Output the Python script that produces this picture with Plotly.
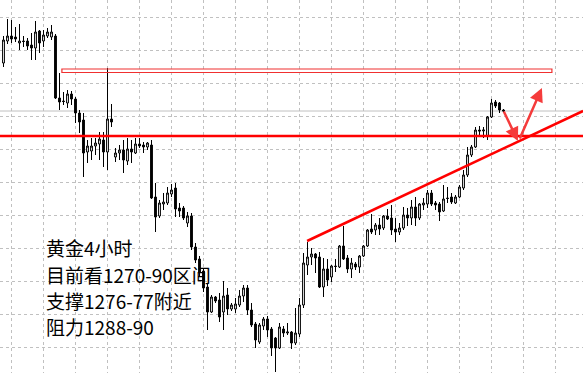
import plotly.graph_objects as go

# ---- data: XAUUSD 4H candles (price units) ----
bar_index = list(range(126))
open_ = [1290.4,1294.8,1295.8,1295.6,1294.4,1294.8,1294.8,1294.0,1293.4,1296.8,
         1294.8,1295.8,1295.6,1295.8,1283.4,1282.8,1282.4,1284.2,1283.2,1280.4,
         1279.0,1272.6,1272.8,1273.8,1274.2,1275.0,1272.6,1279.2,1271.6,1272.4,
         1273.0,1270.8,1273.2,1272.4,1274.2,1274.0,1273.6,1274.0,1263.6,1259.8,
         1262.2,1262.4,1264.2,1265.4,1261.4,1261.4,1258.4,1259.8,1253.6,1251.2,
         1248.8,1245.6,1240.6,1243.6,1243.0,1240.6,1244.0,1241.2,1241.2,1242.0,
         1243.8,1245.4,1241.0,1238.2,1234.6,1237.8,1239.2,1237.2,1235.4,1233.4,
         1237.2,1236.4,1236.6,1234.4,1236.2,1242.0,1250.0,1251.6,1252.2,1251.6,
         1245.6,1249.2,1247.6,1249.8,1249.6,1253.8,1251.4,1249.2,1250.2,1249.6,
         1251.8,1253.8,1257.2,1257.0,1258.0,1257.4,1259.8,1259.4,1257.2,1256.6,
         1257.4,1260.0,1259.4,1261.6,1259.4,1262.0,1262.2,1264.4,1262.4,1262.2,
         1260.8,1263.4,1263.6,1262.4,1263.6,1265.4,1268.0,1272.0,1273.6,1277.0,
         1276.8,1275.8,1279.6,1282.6,1282.4,1281.0]
high_ = [1295.8,1299.2,1299.0,1297.6,1298.2,1295.8,1295.4,1296.4,1298.8,1297.0,
         1297.0,1297.4,1298.0,1296.2,1288.4,1284.6,1285.0,1284.8,1283.6,1281.0,
         1280.4,1275.0,1275.4,1275.4,1276.6,1276.6,1289.4,1282.2,1273.4,1274.0,
         1275.0,1275.4,1275.0,1275.4,1275.4,1274.6,1274.6,1275.0,1266.4,1263.0,
         1264.4,1265.6,1266.2,1266.4,1262.4,1261.8,1260.6,1260.4,1254.4,1251.8,
         1249.4,1246.4,1244.0,1243.8,1244.4,1246.8,1245.4,1242.4,1243.4,1245.0,
         1246.0,1246.0,1242.4,1238.6,1238.4,1239.6,1239.8,1237.6,1235.6,1238.4,
         1237.8,1238.4,1236.8,1241.4,1243.4,1252.4,1254.6,1253.4,1252.4,1252.6,
         1251.4,1251.2,1250.0,1251.2,1254.0,1257.8,1252.0,1251.4,1250.6,1252.0,
         1254.0,1257.2,1260.2,1258.4,1259.4,1260.0,1261.2,1262.0,1259.4,1258.4,
         1261.6,1261.4,1263.0,1263.6,1262.4,1263.4,1265.0,1265.0,1262.8,1262.6,
         1266.0,1265.6,1264.4,1264.0,1266.0,1269.0,1273.6,1274.0,1277.6,1277.8,
         1277.6,1279.8,1283.2,1283.0,1282.6,1281.2]
low_ = [1289.6,1294.2,1294.4,1294.6,1293.0,1293.6,1293.0,1291.0,1291.0,1292.4,
        1293.6,1295.4,1295.0,1283.2,1281.0,1282.0,1281.4,1282.0,1278.4,1276.4,
        1267.6,1270.4,1271.0,1272.0,1271.0,1269.6,1269.0,1277.6,1270.6,1271.0,
        1268.4,1270.0,1270.4,1272.2,1273.4,1272.4,1273.0,1263.2,1256.6,1259.4,
        1261.0,1262.0,1263.6,1259.6,1259.6,1259.0,1257.6,1253.0,1250.4,1247.8,
        1244.6,1237.0,1240.4,1242.4,1238.6,1237.0,1240.0,1240.8,1240.4,1241.6,
        1242.6,1240.0,1237.6,1233.4,1234.2,1237.0,1235.6,1231.8,1228.6,1233.2,
        1235.6,1236.0,1233.2,1234.0,1235.6,1241.4,1248.0,1250.0,1248.4,1245.4,
        1243.6,1245.8,1246.6,1248.6,1249.4,1251.0,1248.4,1247.4,1249.0,1248.4,
        1251.6,1253.6,1256.2,1256.0,1256.0,1257.0,1259.0,1256.0,1254.6,1256.0,
        1257.0,1257.8,1258.0,1257.8,1259.0,1261.0,1261.4,1261.8,1261.0,1258.8,
        1260.6,1262.4,1262.2,1262.2,1263.4,1265.0,1267.6,1271.6,1273.4,1275.8,
        1275.4,1275.0,1279.4,1281.4,1280.4,1280.6]
close_ = [1295.0,1295.8,1295.2,1295.2,1294.8,1294.7,1293.8,1293.4,1296.6,1294.4,
          1296.0,1296.6,1296.6,1283.4,1282.6,1282.7,1284.2,1283.2,1280.4,1278.6,
          1272.4,1273.8,1273.8,1274.4,1275.2,1272.6,1279.2,1278.6,1272.4,1273.0,
          1271.0,1273.2,1272.6,1274.2,1273.8,1273.6,1274.4,1263.4,1259.6,1262.4,
          1262.6,1264.4,1265.0,1261.2,1260.8,1259.4,1259.8,1253.6,1251.0,1248.6,
          1245.4,1240.6,1243.6,1242.8,1239.6,1243.8,1241.2,1242.0,1242.2,1243.8,
          1245.4,1241.0,1238.0,1235.0,1238.0,1239.2,1237.0,1233.4,1233.4,1237.6,
          1236.4,1236.6,1234.4,1236.4,1242.0,1250.4,1251.6,1252.2,1251.4,1245.6,
          1249.2,1247.0,1249.8,1249.7,1253.8,1251.2,1249.2,1250.4,1249.6,1251.8,
          1253.8,1257.0,1256.6,1258.0,1257.2,1259.8,1259.2,1257.0,1256.6,1257.4,
          1260.0,1259.4,1261.6,1259.4,1262.2,1262.4,1264.4,1262.2,1262.0,1260.6,
          1263.2,1263.3,1262.6,1263.6,1265.6,1268.0,1272.0,1273.6,1277.0,1276.8,
          1277.0,1279.6,1282.4,1281.8,1281.0,1280.8]

# ---- analysis drawings ----
support_level = 1275.8
resistance_box = [1288.5, 1289.2]
resistance_box_x = [14.6, 137.1]
trend_x = [75.9, 144.9]
trend_y = [1254.8, 1280.8]
arrow_down = {"from": (124.9, 1281.0), "to": (128.6, 1274.8)}
arrow_up = {"from": (128.9, 1275.0), "to": (134.6, 1285.4)}
notes = ["黄金4小时", "目前看1270-90区间", "支撑1276-77附近", "阻力1288-90"]

x_range = [-0.875, 144.875]
y_range = [1228.4, 1303.0]

fig = go.Figure()
fig.add_trace(go.Candlestick(
    x=bar_index, open=open_, high=high_, low=low_, close=close_,
    increasing=dict(line=dict(color="black", width=1), fillcolor="white"),
    decreasing=dict(line=dict(color="black", width=1), fillcolor="black"),
    whiskerwidth=0, hoverinfo="skip", showlegend=False,
))

# current bid line
fig.add_shape(type="line", xref="paper", x0=0, x1=1, yref="y",
              y0=close_[-1], y1=close_[-1],
              line=dict(color="#c0c0c0", width=1), layer="below")
# support line
fig.add_shape(type="line", xref="paper", x0=0, x1=1, yref="y",
              y0=support_level, y1=support_level,
              line=dict(color="#ff0000", width=2.5))
# resistance box
fig.add_shape(type="rect", x0=resistance_box_x[0], x1=resistance_box_x[1],
              y0=resistance_box[0], y1=resistance_box[1],
              line=dict(color="#f03030", width=1.2), fillcolor="rgba(255,255,255,0)")
# trend line
fig.add_shape(type="line", x0=trend_x[0], x1=trend_x[1], y0=trend_y[0], y1=trend_y[1],
              line=dict(color="#ff0000", width=2.5))

for arr in (arrow_down, arrow_up):
    fig.add_annotation(x=arr["to"][0], y=arr["to"][1], ax=arr["from"][0], ay=arr["from"][1],
                       xref="x", yref="y", axref="x", ayref="y", text="",
                       showarrow=True, arrowhead=2, arrowsize=1.1, arrowwidth=2.5,
                       arrowcolor="#f53b3b", standoff=0, startstandoff=0)

line_centers = [247, 274, 300, 326]
for txt, yc in zip(notes, line_centers):
    fig.add_annotation(xref="paper", yref="paper", x=44 / 583, y=1 - yc / 373,
                       xanchor="left", yanchor="middle", text=txt, showarrow=False,
                       font=dict(family="Noto Sans CJK SC", size=19, color="black"))

fig.update_layout(
    width=583, height=373, margin=dict(l=0, r=0, t=0, b=0),
    paper_bgcolor="white", plot_bgcolor="white", boxgap=0.35,
    showlegend=False,
    xaxis=dict(range=x_range, rangeslider=dict(visible=False), showticklabels=False,
               ticks="", tick0=2, dtick=8, showgrid=True, gridcolor="#c0c0c0",
               griddash="3px,3px", gridwidth=1, zeroline=False, showline=False, fixedrange=True),
    yaxis=dict(range=y_range, showticklabels=False, ticks="", tick0=1299.6, dtick=6.6,
               showgrid=True, gridcolor="#c0c0c0", griddash="3px,3px", gridwidth=1,
               zeroline=False, showline=False, fixedrange=True),
)

fig.write_html("out.html", config={"displayModeBar": False})
